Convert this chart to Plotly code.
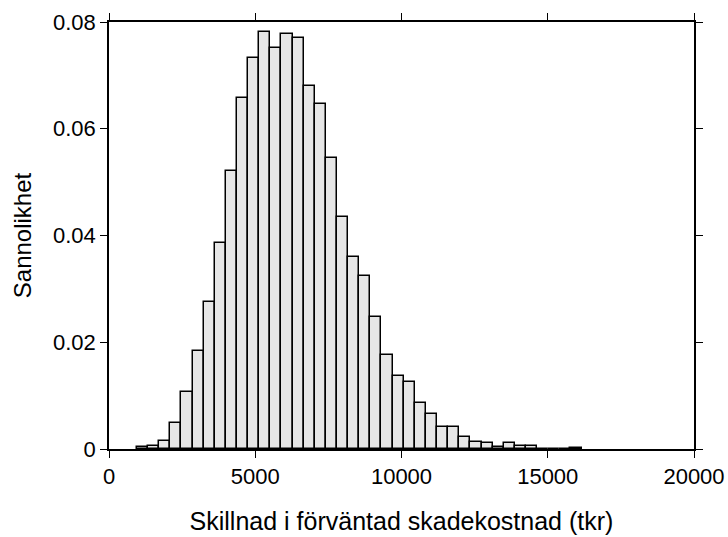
import plotly.graph_objects as go

# Histogram data (probability per bin)
bin_start = 955.0      # left edge of first bin (tkr)
bin_width = 380.0      # bin width (tkr)
probabilities = [
    0.0003, 0.0006, 0.0015, 0.0049, 0.0106, 0.0183, 0.0276, 0.0386,
    0.0520, 0.0658, 0.0733, 0.0781, 0.0751, 0.0778, 0.0770, 0.0680,
    0.0646, 0.0546, 0.0434, 0.0359, 0.0325, 0.0247, 0.0176, 0.0137,
    0.0126, 0.0086, 0.0066, 0.0041, 0.0041, 0.0022, 0.0014, 0.0011,
    0.0004, 0.0011, 0.0006, 0.0006, 0.0, 0.0, 0.0, 0.0002,
]
x_ticks = [0, 5000, 10000, 15000, 20000]
x_ticklabels = ["0", "5000", "10000", "15000", "20000"]
y_ticks = [0, 0.02, 0.04, 0.06, 0.08]
y_ticklabels = ["0", "0.02", "0.04", "0.06", "0.08"]
x_title = "Skillnad i förväntad skadekostnad (tkr)"
y_title = "Sannolikhet"

centers = [bin_start + bin_width * (i + 0.5) for i in range(len(probabilities))]

FONT = "Liberation Sans, Arial, Helvetica, sans-serif"

fig = go.Figure(
    go.Bar(
        x=centers,
        y=probabilities,
        width=[bin_width] * len(probabilities),
        marker=dict(color="#e6e6e6", line=dict(color="black", width=1.5)),
        hoverinfo="x+y",
    )
)

axis_common = dict(
    showline=True,
    linecolor="black",
    linewidth=1.6,
    mirror="ticks",
    ticks="outside",
    ticklen=7,
    tickwidth=1.4,
    tickcolor="black",
    showgrid=False,
    zeroline=False,
    automargin=False,
    tickfont=dict(family=FONT, size=22, color="black"),
)

fig.update_layout(
    width=728,
    height=537,
    margin=dict(l=109, r=34, t=22, b=88, pad=0, autoexpand=False),
    paper_bgcolor="white",
    plot_bgcolor="white",
    showlegend=False,
    bargap=0,
    xaxis=dict(
        range=[0, 20000],
        tickvals=x_ticks,
        ticktext=x_ticklabels,
        title=dict(text=x_title, font=dict(family=FONT, size=25, color="black"), standoff=24),
        **axis_common,
    ),
    yaxis=dict(
        range=[0, 0.08],
        tickvals=y_ticks,
        ticktext=y_ticklabels,
        title=dict(text=y_title, font=dict(family=FONT, size=24, color="black"), standoff=15),
        **axis_common,
    ),
)

fig.write_html("out.html")
